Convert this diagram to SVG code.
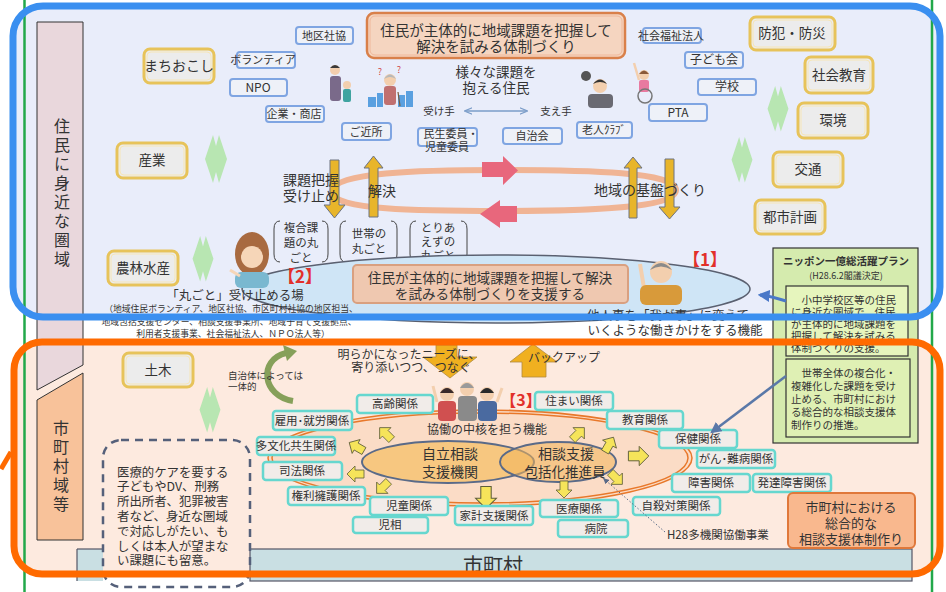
<svg xmlns="http://www.w3.org/2000/svg" width="946" height="592" viewBox="0 0 946 592">
  <defs>
    <style>
      text { font-family: "Noto Sans CJK JP", "Noto Sans", sans-serif; fill: #333; }
      .c { text-anchor: middle; }
      .bx { fill: #eef1f8; stroke: #7fa5e2; stroke-width: 2; }
      .gd { fill: #ececec; stroke: #e7c35a; stroke-width: 3; }
      .gdi { fill: none; stroke: #f6e6b8; stroke-width: 1; }
      .tq { fill: #f1ece9; stroke: #66d7cf; stroke-width: 2.5; }
      .ga { fill: #e8b52a; stroke: #6d7280; stroke-width: 1; }
      .pk { fill: #e8677c; }
      .ya { fill: #f6e45a; stroke: #5e5e3a; stroke-width: 0.8; }
      .gm { fill: #b8e6b2; }
      .red { fill: #e2302a; font-weight: bold; }
      .ser { font-size: 10.5px; fill: #333; }
      .vt { font-size: 16px; text-anchor: middle; }
    </style>
    <path id="ya" d="M-8,-4 L1,-4 L1,-8 L9,0 L1,8 L1,4 L-8,4 Z"/>
    <path id="dia" d="M-3,0 L0,11 L3,0 L11,24 L3,48 L0,37 L-3,48 L-11,24 Z"/>
    <marker id="ah" viewBox="0 0 10 10" refX="8" refY="5" markerWidth="4" markerHeight="4" orient="auto-start-reverse">
      <path d="M0,0 L10,5 L0,10 Z" fill="#4a78c8"/>
    </marker>
    <marker id="ah2" viewBox="0 0 10 10" refX="8" refY="5" markerWidth="4.5" markerHeight="4.5" orient="auto-start-reverse">
      <path d="M0,0 L10,5 L0,10 Z" fill="#5a78a8"/>
    </marker>
    <marker id="ahs" viewBox="0 0 10 10" refX="8" refY="5" markerWidth="6" markerHeight="6" orient="auto-start-reverse">
      <path d="M0,1 L10,5 L0,9" fill="none" stroke="#7a9cc8" stroke-width="1.5"/>
    </marker>
    <marker id="ahd" viewBox="0 0 10 10" refX="8" refY="5" markerWidth="6" markerHeight="6" orient="auto">
      <path d="M0,0 L10,5 L0,10 Z" fill="#5a6a88"/>
    </marker>
  </defs>

  <!-- page background -->
  <rect x="0" y="0" width="946" height="592" fill="#ffffff"/>

  <!-- zone fills -->
  <rect x="13" y="6" width="927" height="311" rx="30" fill="#e9edfa"/>
  <rect x="14" y="342" width="926" height="232" rx="28" fill="#fdeadf"/>

  <!-- side column labels -->
  <g id="col-local">
    <path d="M37,22 H83 V365 L37,390 Z" fill="#e9d7dc" stroke="#333" stroke-width="1"/>
    <text x="62" y="132" class="vt">住</text>
    <text x="62" y="151" class="vt">民</text>
    <text x="62" y="170" class="vt">に</text>
    <text x="62" y="189" class="vt">身</text>
    <text x="62" y="208" class="vt">近</text>
    <text x="62" y="227" class="vt">な</text>
    <text x="62" y="246" class="vt">圏</text>
    <text x="62" y="265" class="vt">域</text>
  </g>
  <g id="col-city">
    <path d="M37,400 L83,373 V540 H37 Z" fill="#f8c29a" stroke="#333" stroke-width="1"/>
    <text x="61" y="434" class="vt">市</text>
    <text x="61" y="453" class="vt">町</text>
    <text x="61" y="472" class="vt">村</text>
    <text x="61" y="491" class="vt">域</text>
    <text x="61" y="510" class="vt">等</text>
  </g>

  <!-- green slide edges -->
  <line x1="24.5" y1="0" x2="24.5" y2="592" stroke="#22a84a" stroke-width="2.5"/>
  <line x1="932" y1="0" x2="932" y2="592" stroke="#22a84a" stroke-width="2.5"/>

  <!-- ===== upper zone ===== -->
  <g id="head-local">
    <rect x="367" y="13" width="258" height="45" rx="7" fill="#f5d5c0" stroke="#d9804a" stroke-width="2.5"/>
    <rect x="370" y="16" width="252" height="39" rx="5" fill="none" stroke="#f0b89a" stroke-width="1"/>
    <text x="496" y="36" font-size="14.5" class="c">住民が主体的に地域課題を把握して</text>
    <text x="496" y="52" font-size="14.5" class="c">解決を試みる体制づくり</text>
  </g>

  <!-- local actors -->
  <g id="actors" font-size="11">
    <g id="n-chikushakyo"><rect class="bx" x="296" y="27" width="57" height="17" rx="3"/><text x="324" y="40" class="c">地区社協</text></g>
    <g id="n-volunteer"><rect class="bx" x="237" y="52" width="58" height="16" rx="3"/><text x="263" y="64" class="c">ボランティア</text></g>
    <g id="n-npo"><rect class="bx" x="230" y="79" width="57" height="17" rx="3"/><text x="258" y="92" class="c" font-size="12">NPO</text></g>
    <g id="n-kigyo"><rect class="bx" x="266" y="106" width="58" height="16" rx="3"/><text x="294" y="118" class="c">企業・商店</text></g>
    <g id="n-kinjo"><rect class="bx" x="342" y="123" width="49" height="17" rx="3"/><text x="366" y="136" class="c">ご近所</text></g>
    <g id="n-minsei"><rect class="bx" x="418" y="128" width="59" height="18" rx="3"/><text x="451" y="138" class="c">民生委員・</text><text x="447" y="151" class="c">児童委員</text></g>
    <g id="n-jichikai"><rect class="bx" x="503" y="128" width="59" height="16" rx="3"/><text x="532" y="140" class="c">自治会</text></g>
    <g id="n-rojin"><rect class="bx" x="577" y="122" width="55" height="16" rx="3"/><text x="604" y="134" class="c">老人ｸﾗﾌﾞ</text></g>
    <g id="n-shafuku"><rect class="bx" x="643" y="28" width="58" height="15" rx="3"/><text x="671" y="40" class="c">社会福祉法人</text></g>
    <g id="n-kodomo"><rect class="bx" x="685" y="52" width="58" height="16" rx="3"/><text x="714" y="64" class="c" font-size="12">子ども会</text></g>
    <g id="n-gakko"><rect class="bx" x="698" y="79" width="58" height="16" rx="3"/><text x="727" y="91" class="c" font-size="12">学校</text></g>
    <g id="n-pta"><rect class="bx" x="649" y="104" width="58" height="17" rx="3"/><text x="678" y="117" class="c" font-size="12">PTA</text></g>
  </g>

  <!-- policy fields -->
  <g id="fields" font-size="13.5">
    <g id="f-machi"><rect class="gd" x="144" y="49" width="70" height="34" rx="6"/><rect class="gdi" x="147" y="52" width="64" height="28" rx="4"/><text x="179" y="71" class="c" font-size="14">まちおこし</text></g>
    <g id="f-sangyo"><rect class="gd" x="117" y="143" width="70" height="35" rx="6"/><rect class="gdi" x="120" y="146" width="64" height="29" rx="4"/><text x="152" y="165" class="c">産業</text></g>
    <g id="f-norin"><rect class="gd" x="108" y="251" width="70" height="34" rx="6"/><rect class="gdi" x="111" y="254" width="64" height="28" rx="4"/><text x="143" y="273" class="c">農林水産</text></g>
    <g id="f-bohan"><rect class="gd" x="750" y="17" width="85" height="33" rx="6"/><rect class="gdi" x="753" y="20" width="79" height="27" rx="4"/><text x="792" y="38" class="c">防犯・防災</text></g>
    <g id="f-shakyo"><rect class="gd" x="805" y="57" width="68" height="36" rx="6"/><rect class="gdi" x="808" y="60" width="62" height="30" rx="4"/><text x="839" y="80" class="c">社会教育</text></g>
    <g id="f-kankyo"><rect class="gd" x="798" y="103" width="70" height="35" rx="6"/><rect class="gdi" x="801" y="106" width="64" height="29" rx="4"/><text x="833" y="125" class="c">環境</text></g>
    <g id="f-kotsu"><rect class="gd" x="773" y="152" width="70" height="35" rx="6"/><rect class="gdi" x="776" y="155" width="64" height="29" rx="4"/><text x="808" y="174" class="c">交通</text></g>
    <g id="f-toshi"><rect class="gd" x="755" y="200" width="70" height="34" rx="6"/><rect class="gdi" x="758" y="203" width="64" height="28" rx="4"/><text x="790" y="222" class="c">都市計画</text></g>
    <g id="f-doboku"><rect class="gd" x="123" y="353" width="70" height="34" rx="6"/><rect class="gdi" x="126" y="356" width="64" height="28" rx="4"/><text x="158" y="375" class="c">土木</text></g>
  </g>

  <!-- green two-way markers -->
  <g id="links-green">
    <use href="#dia" class="gm" transform="translate(216,135)"/>
    <use href="#dia" class="gm" transform="translate(203,236) scale(0.95)"/>
    <use href="#dia" class="gm" transform="translate(778,86) scale(0.95)"/>
    <use href="#dia" class="gm" transform="translate(742,137) scale(0.95)"/>
    <use href="#dia" class="gm" transform="translate(210,387) scale(0.95)"/>
  </g>

  <!-- residents illustrations -->
  <g id="fig-family">
    <circle cx="335" cy="70" r="5" fill="#f3cfae"/>
    <path d="M330,68 Q335,62 340,68 Z" fill="#3a3a3a"/>
    <rect x="330" y="76" width="11" height="25" rx="3" fill="#7a6a8a"/>
    <circle cx="347" cy="85" r="4" fill="#f3cfae"/>
    <rect x="343" y="89" width="8" height="13" rx="2" fill="#3fa3a0"/>
  </g>
  <g id="fig-elder">
    <rect x="368" y="97" width="8" height="10" fill="#5aa0e0"/>
    <rect x="377" y="93" width="6" height="14" fill="#5aa0e0"/>
    <rect x="398" y="95" width="7" height="12" fill="#5aa0e0"/>
    <rect x="406" y="91" width="7" height="16" fill="#5aa0e0"/>
    <circle cx="390" cy="80" r="6" fill="#f3cfae"/>
    <path d="M384,79 Q390,70 396,79 Q390,75 384,79 Z" fill="#b8b8b8"/>
    <rect x="384" y="86" width="12" height="19" rx="3" fill="#c07070"/>
    <line x1="398" y1="92" x2="400" y2="106" stroke="#7a5a3a" stroke-width="1.2"/>
    <text x="380" y="75" font-size="9" class="c" style="fill:#d04a4a">?</text>
    <text x="399" y="73" font-size="9" class="c" style="fill:#d04a4a">?</text>
  </g>
  <g id="fig-worried">
    <circle cx="586" cy="76" r="5" fill="#555"/>
    <circle cx="600" cy="86" r="7" fill="#f3cfae"/>
    <path d="M593,84 Q600,75 607,84 Q600,80 593,84 Z" fill="#333"/>
    <rect x="588" y="94" width="25" height="14" rx="4" fill="#6a6a72"/>
  </g>
  <g id="fig-wheelchair">
    <line x1="639" y1="80" x2="634" y2="63" stroke="#f3cfae" stroke-width="2.5"/>
    <circle cx="644" cy="75" r="5" fill="#f3cfae"/>
    <path d="M639,74 Q644,67 649,74 Z" fill="#8a5a3a"/>
    <rect x="639" y="80" width="10" height="12" rx="2" fill="#e87aa0"/>
    <circle cx="645" cy="96" r="7" fill="none" stroke="#777" stroke-width="1.5"/>
  </g>

  <!-- receiver / supporter -->
  <g id="mid-labels">
    <text x="496" y="77" font-size="13.5" class="c">様々な課題を</text>
    <text x="496" y="93" font-size="13.5" class="c">抱える住民</text>
    <text x="439" y="115" font-size="10.5" class="c">受け手</text>
    <text x="556" y="115" font-size="10.5" class="c">支え手</text>
  </g>

  <!-- cycle of the local base -->
  <g id="cycle">
    <path d="M332,192 C332,172 420,170 500,170 C590,170 676,172 676,190 C676,208 590,211 500,211 C420,211 332,210 332,192 Z" fill="none" stroke="#f0b494" stroke-width="6"/>
    <path class="pk" d="M482,162 H503 V156 L518,170.5 L503,185 V177 H482 Z"/>
    <path class="pk" d="M517,206 H500 V200 L480,214 L500,228 V222 H517 Z"/>
  </g>

  <g id="gold-arrows">
    <path class="ga" d="M330,160 H339 V205 H345 L334.5,218 L324,205 H330 Z"/>
    <path class="ga" d="M369,217 V168 H364 L373.5,156 L383,168 H378 V217 Z"/>
    <path class="ga" d="M629,218 V168 H624 L633,157 L642,168 H637 V218 Z"/>
    <path class="ga" d="M665,159 H674 V207 H680 L669.5,219 L659,207 H665 Z"/>
  </g>

  <g id="cycle-labels" font-size="14">
    <text x="283" y="185">課題把握</text>
    <text x="283" y="201">受け止め</text>
    <text x="382" y="196" class="c">解決</text>
    <text x="650" y="195" class="c">地域の基盤づくり</text>
  </g>

  <!-- kinds of "whole" problems -->
  <g id="marugoto" font-size="11.5">
    <g fill="none" stroke="#444" stroke-width="1">
      <path d="M280,221 Q274,221 274,229 V254 Q274,262 280,262"/>
      <path d="M322,221 Q328,221 328,229 V254 Q328,262 322,262"/>
      <path d="M346,221 Q340,221 340,229 V254 Q340,262 346,262"/>
      <path d="M391,221 Q397,221 397,229 V254 Q397,262 391,262"/>
      <path d="M416,221 Q410,221 410,229 V254 Q410,262 416,262"/>
      <path d="M461,221 Q467,221 467,229 V254 Q467,262 461,262"/>
    </g>
    <text x="301" y="232" class="c">複合課</text>
    <text x="301" y="247" class="c">題の丸</text>
    <text x="301" y="262" class="c">ごと</text>
    <text x="369" y="238" class="c">世帯の</text>
    <text x="369" y="253" class="c">丸ごと</text>
    <text x="438" y="232" class="c">とりあ</text>
    <text x="438" y="246" class="c">えずの</text>
    <text x="438" y="260" class="c">丸ごと</text>
  </g>

  <!-- place of support -->
  <g id="support-place">
    <ellipse cx="496" cy="289" rx="254" ry="34" fill="#cfe5f6" stroke="#5a6070" stroke-width="1.5"/>
    <rect x="353" y="265" width="275" height="38" rx="4" fill="#efc8b0" stroke="#d9a080" stroke-width="2"/>
    <text x="490" y="283" font-size="13.6" class="c">住民が主体的に地域課題を把握して解決</text>
    <text x="490" y="299" font-size="13.6" class="c">を試みる体制づくりを支援する</text>
    <text x="300" y="283" font-size="17" class="c red" style="fill:#e2302a">【2】</text>
    <text x="705" y="266" font-size="17" class="c red" style="fill:#e2302a">【1】</text>
  </g>

  <g id="fig-woman">
    <ellipse cx="252" cy="254" rx="17" ry="22" fill="#a86a40"/>
    <circle cx="252" cy="257" r="11" fill="#f6d6b8"/>
    <rect x="235" y="272" width="34" height="16" rx="6" fill="#7ab8d0"/>
    <line x1="230" y1="270" x2="240" y2="276" stroke="#f6d6b8" stroke-width="3"/>
  </g>
  <g id="fig-oldman">
    <line x1="644" y1="288" x2="640" y2="264" stroke="#f3cfae" stroke-width="4"/>
    <circle cx="661" cy="272" r="11" fill="#f3cfae"/>
    <path d="M650,270 Q661,256 672,270 Q661,263 650,270 Z" fill="#8a8a8a"/>
    <rect x="640" y="285" width="42" height="20" rx="6" fill="#d89a3a"/>
  </g>

  <g id="support-notes">
    <text x="235" y="300" font-size="12.5" class="c">「丸ごと」受け止める場</text>
    <text x="231" y="312" font-size="8.8" class="c">（地域住民ボランティア、地区社協、市区町村社協の地区担当、</text>
    <text x="229" y="325" font-size="8.8" class="c">地域包括支援センター、相談支援事業所、地域子育て支援拠点、</text>
    <text x="233" y="337" font-size="8.8" class="c">利用者支援事業、社会福祉法人、ＮＰＯ法人等）</text>
    <text x="668" y="320" font-size="12.5" class="c">他人事を「我が事」に変えて</text>
    <text x="675" y="335" font-size="12.5" class="c">いくような働きかけをする機能</text>
  </g>

  <!-- national plan -->
  <g id="plan">
    <rect x="773" y="248" width="145" height="195" fill="#d5ebae" stroke="#333" stroke-width="1.2"/>
    <text x="846" y="265" font-size="10.5" font-weight="bold" class="c">ニッポン一億総活躍プラン</text>
    <text x="846" y="279" font-size="9" class="c">(H28.6.2閣議決定)</text>
    <rect x="786" y="286" width="122" height="70" fill="#e6f5bd" stroke="#333" stroke-width="1.2"/>
    <text x="791" y="304" class="ser">　小中学校区等の住民</text>
    <text x="791" y="316" class="ser">に身近な圏域で、住民</text>
    <text x="791" y="328" class="ser">が主体的に地域課題を</text>
    <text x="791" y="340" class="ser">把握して解決を試みる</text>
    <text x="791" y="352" class="ser">体制づくりの支援。</text>
    <rect x="786" y="359" width="124" height="78" fill="#dff0b4" stroke="#333" stroke-width="1.2"/>
    <text x="791" y="377" class="ser">　世帯全体の複合化・</text>
    <text x="791" y="390" class="ser">複雑化した課題を受け</text>
    <text x="791" y="403" class="ser">止める、市町村におけ</text>
    <text x="791" y="416" class="ser">る総合的な相談支援体</text>
    <text x="791" y="429" class="ser">制作りの推進。</text>
  </g>

  <!-- ===== lower zone ===== -->
  <g id="city-bar">
    <rect x="77" y="549" width="26" height="32" fill="#c9dfe3"/>
    <rect x="250" y="549" width="662" height="32" fill="#c9dfe3" stroke="#556" stroke-width="1.2"/>
    <line x1="77" y1="549" x2="103" y2="549" stroke="#556" stroke-width="1.2"/>
    <line x1="77" y1="549" x2="77" y2="581" stroke="#556" stroke-width="1.2"/>
    <text x="493" y="573" font-size="20" class="c">市町村</text>
  </g>

  <g id="note-box">
    <rect x="103" y="440" width="147" height="147" rx="18" fill="none" stroke="#55607a" stroke-width="2.5" stroke-dasharray="8,6"/>
    <g font-size="12.4">
      <text x="117" y="477">医療的ケアを要する</text>
      <text x="117" y="491">子どもやDV、刑務</text>
      <text x="117" y="506">所出所者、犯罪被害</text>
      <text x="117" y="521">者など、身近な圏域</text>
      <text x="117" y="536">で対応しがたい、も</text>
      <text x="117" y="551">しくは本人が望まな</text>
      <text x="117" y="565">い課題にも留意。</text>
    </g>
  </g>

  <g id="needs">
    <path d="M436,345 H457 V357 H477 L450,378 L423,357 H436 Z" fill="#f0b020" stroke="#b08a40" stroke-width="0.8"/>
    <text x="409" y="359" font-size="12" class="c">明らかになったニーズに、</text>
    <text x="411" y="372" font-size="12" class="c">寄り添いつつ、つなぐ</text>
    <path d="M522,377 V362 H510 L533,344 L557,362 H546 V377 Z" fill="#f0b020" stroke="#b08a40" stroke-width="0.8"/>
    <text x="564" y="362" font-size="12" class="c">バックアップ</text>
  </g>

  <g id="merge-note">
    <path d="M293,401 C262,396 258,360 286,353" fill="none" stroke="#86a05a" stroke-width="6"/>
    <path d="M283,345 L297,351 L287,361 Z" fill="#86a05a"/>
    <text x="228" y="379" font-size="9.5">自治体によっては</text>
    <text x="228" y="390" font-size="9.5">一体的</text>
  </g>

  <!-- multi-agency loop -->
  <g id="core">
    <ellipse cx="480" cy="458" rx="212" ry="48" fill="#fbdcc6" stroke="#e8782a" stroke-width="1.5"/>
    <ellipse cx="480" cy="458" rx="208" ry="45" fill="none" stroke="#e8782a" stroke-width="1.5"/>
    <text x="487" y="434" font-size="12" class="c">協働の中核を担う機能</text>
    <ellipse cx="448" cy="462" rx="86" ry="21" fill="#f7c780" stroke="#5a6a88" stroke-width="2"/>
    <ellipse cx="558" cy="462" rx="58" ry="20" fill="#f3b55a" fill-opacity="0.55" stroke="#5a6a88" stroke-width="2"/>
    <text x="450" y="459" font-size="14" class="c">自立相談</text>
    <text x="450" y="477" font-size="14" class="c">支援機関</text>
    <text x="566" y="459" font-size="14" class="c">相談支援</text>
    <text x="565" y="477" font-size="13.5" class="c">包括化推進員</text>
  </g>

  <g id="fig-team">
    <line x1="437" y1="402" x2="433" y2="386" stroke="#f3cfae" stroke-width="3"/>
    <line x1="497" y1="402" x2="502" y2="388" stroke="#f3cfae" stroke-width="3"/>
    <circle cx="447" cy="394" r="7" fill="#f3cfae"/>
    <path d="M440,393 Q447,383 454,393 Z" fill="#3a2a2a"/>
    <rect x="438" y="401" width="18" height="20" rx="4" fill="#d05050"/>
    <circle cx="467" cy="389" r="7" fill="#f3cfae"/>
    <path d="M460,388 Q467,378 474,388 Z" fill="#9a9a9a"/>
    <rect x="458" y="396" width="19" height="25" rx="4" fill="#8a8a8a"/>
    <circle cx="487" cy="394" r="7" fill="#f3cfae"/>
    <path d="M480,393 Q487,383 494,393 Z" fill="#2a2a2a"/>
    <rect x="478" y="401" width="19" height="20" rx="4" fill="#4a6aa0"/>
    <text x="521" y="406" font-size="16" class="c red" style="fill:#e2302a">【3】</text>
  </g>

  <g id="out-arrows">
    <use href="#ya" class="ya" transform="translate(386,434) rotate(-135)"/>
    <use href="#ya" class="ya" transform="translate(357,447) rotate(-150)"/>
    <use href="#ya" class="ya" transform="translate(356,474) rotate(180)"/>
    <use href="#ya" class="ya" transform="translate(383,487) rotate(135)"/>
    <use href="#ya" class="ya" transform="translate(486,497) rotate(90) scale(1.3)"/>
    <use href="#ya" class="ya" transform="translate(564,489) rotate(90)"/>
    <use href="#ya" class="ya" transform="translate(578,434) rotate(-45)"/>
    <use href="#ya" class="ya" transform="translate(609,445) rotate(-60)"/>
    <use href="#ya" class="ya" transform="translate(616,478) rotate(45)"/>
    <use href="#ya" class="ya" transform="translate(638,456) scale(1.2)"/>
  </g>

  <!-- related fields -->
  <g id="related" font-size="11.5">
    <g id="r-korei"><rect class="tq" x="357" y="395" width="76" height="18" rx="3"/><text x="395" y="408" class="c">高齢関係</text></g>
    <g id="r-koyo"><rect class="tq" x="273" y="411" width="79" height="19" rx="3"/><text x="312" y="425" class="c">雇用･就労関係</text></g>
    <g id="r-tabunka"><rect class="tq" x="257" y="437" width="78" height="18" rx="3"/><text x="296" y="450" class="c">多文化共生関係</text></g>
    <g id="r-shiho"><rect class="tq" x="263" y="462" width="79" height="18" rx="3"/><text x="302" y="475" class="c">司法関係</text></g>
    <g id="r-kenri"><rect class="tq" x="288" y="487" width="77" height="18" rx="3"/><text x="326" y="500" class="c">権利擁護関係</text></g>
    <g id="r-jido"><rect class="tq" x="370" y="497" width="78" height="18" rx="3"/><text x="409" y="510" class="c">児童関係</text></g>
    <g id="r-jiso"><rect class="tq" x="353" y="517" width="75" height="16" rx="3"/><text x="390" y="529" class="c">児相</text></g>
    <g id="r-kakei"><rect class="tq" x="455" y="506" width="78" height="19" rx="3"/><text x="494" y="520" class="c">家計支援関係</text></g>
    <g id="r-iryo"><rect class="tq" x="540" y="500" width="78" height="17" rx="3"/><text x="579" y="513" class="c">医療関係</text></g>
    <g id="r-byoin"><rect class="tq" x="558" y="520" width="70" height="17" rx="3"/><text x="596" y="533" class="c">病院</text></g>
    <g id="r-sumai"><rect class="tq" x="535" y="392" width="78" height="18" rx="3"/><text x="574" y="405" class="c">住まい関係</text></g>
    <g id="r-kyoiku"><rect class="tq" x="607" y="411" width="76" height="18" rx="3"/><text x="645" y="424" class="c">教育関係</text></g>
    <g id="r-hoken"><rect class="tq" x="659" y="430" width="78" height="18" rx="3"/><text x="698" y="443" class="c">保健関係</text></g>
    <g id="r-gan"><rect class="tq" x="697" y="450" width="78" height="18" rx="3"/><text x="736" y="463" class="c">がん･難病関係</text></g>
    <g id="r-shogai"><rect class="tq" x="672" y="474" width="78" height="18" rx="3"/><text x="711" y="487" class="c">障害関係</text></g>
    <g id="r-hattatsu"><rect class="tq" x="753" y="474" width="78" height="18" rx="3"/><text x="792" y="487" class="c">発達障害関係</text></g>
    <g id="r-jisatsu"><rect class="tq" x="633" y="497" width="87" height="18" rx="3"/><text x="676" y="510" class="c">自殺対策関係</text></g>
  </g>

  <g id="h28">
    <text x="667" y="539" font-size="11.5">H28多機関協働事業</text>
  </g>

  <g id="city-system">
    <rect x="788" y="493" width="127" height="55" rx="5" fill="#f9b88e" stroke="#e0783a" stroke-width="2"/>
    <text x="851" y="512" font-size="13" class="c">市町村における</text>
    <text x="851" y="528" font-size="13" class="c">総合的な</text>
    <text x="851" y="544" font-size="13" class="c">相談支援体制作り</text>
  </g>

  <!-- connectors -->
  <g id="connectors" fill="none">
    <line x1="466" y1="111" x2="526" y2="111" stroke="#7a9cc8" stroke-width="1.3" marker-start="url(#ahs)" marker-end="url(#ahs)"/>
    <path d="M786,301 Q770,296 760,295" stroke="#4a78c8" stroke-width="3" marker-end="url(#ah)"/>
    <line x1="786" y1="376" x2="712" y2="432" stroke="#5a78a8" stroke-width="2.5" marker-end="url(#ah2)"/>
    <line x1="665" y1="532" x2="604" y2="479" stroke="#5a6a88" stroke-width="1" stroke-dasharray="1.5,2" marker-end="url(#ahd)"/>
  </g>

  <!-- zone borders -->
  <rect x="13" y="6" width="927" height="311" rx="30" fill="none" stroke="#3a8ff0" stroke-width="7"/>
  <rect x="14" y="342" width="926" height="232" rx="28" fill="none" stroke="#ff6a00" stroke-width="7"/>
  <line x1="1" y1="469" x2="11" y2="452" stroke="#ff6a00" stroke-width="5"/>
</svg>
